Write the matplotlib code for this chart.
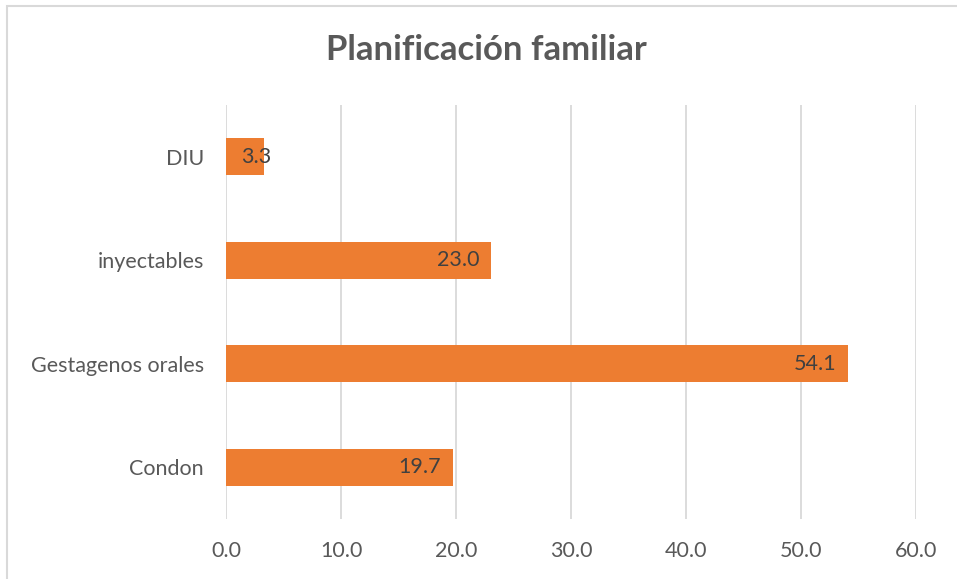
import matplotlib.pyplot as plt
from matplotlib.patches import Rectangle

# ==================== DATA ====================
categories = ['Condon', 'Gestagenos orales', 'inyectables', 'DIU']
values = [19.7, 54.1, 23.0, 3.3]
xticks = [0, 10, 20, 30, 40, 50, 60]

BAR_COLOR = '#ED7D31'
GRID_COLOR = '#D9D9D9'
TEXT_COLOR = '#595959'
LABEL_COLOR = '#404040'

plt.rcParams['font.family'] = ['Lato', 'DejaVu Sans']

W, H = 957, 579
fig = plt.figure(figsize=(W / 100, H / 100), dpi=100)
ax = fig.add_axes([226 / W, 1 - 519 / H, (916 - 226) / W, (519 - 105) / H])

# chart frame (left and top edges visible)
fig.patches.append(Rectangle((7 / W, -0.1), 1.2, 1 - 6 / H + 0.1,
                             transform=fig.transFigure, fill=False,
                             edgecolor=GRID_COLOR, linewidth=1.5))

y = range(len(categories))
bars = ax.barh(y, values, height=0.36, color=BAR_COLOR, zorder=3)

# value labels at the inside end; short bars get the label from the bar start
for bar, v in zip(bars, values):
    yc = bar.get_y() + bar.get_height() / 2
    if v < 5:
        ax.text(1.3, yc, f'{v:.1f}', ha='left', va='center',
                color=LABEL_COLOR, fontsize=15.5, zorder=4)
    else:
        ax.text(v - 1.0, yc, f'{v:.1f}', ha='right', va='center',
                color=LABEL_COLOR, fontsize=15.5, zorder=4)

ax.set_xlim(0, 60)
ax.set_ylim(-0.5, len(categories) - 0.5)
ax.set_xticks(xticks)
ax.set_xticklabels([f'{t:.1f}' for t in xticks])
ax.set_yticks(list(y))
ax.set_yticklabels(categories)
ax.tick_params(axis='both', length=0, labelsize=15.5, labelcolor=TEXT_COLOR)
ax.tick_params(axis='x', pad=16)
ax.tick_params(axis='y', pad=16)
ax.grid(axis='x', color=GRID_COLOR, linewidth=1.3, zorder=0)
for s in ax.spines.values():
    s.set_visible(False)

fig.text(486 / W, 1 - 50 / H, 'Planificación familiar',
         ha='center', va='center', fontsize=25, fontweight='bold',
         color=TEXT_COLOR)

fig.savefig('out.png', dpi=100)
